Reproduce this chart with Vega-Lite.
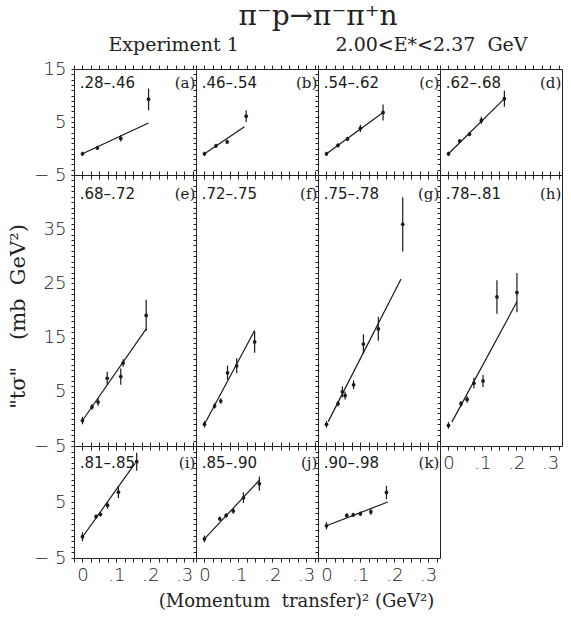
{
 "$schema": "https://vega.github.io/schema/vega-lite/v6.json",
 "background": "white",
 "padding": {"left": 6, "top": 2, "right": 2, "bottom": 2},
 "title": {"text": "π⁻p→π⁻π⁺n", "subtitle": "Experiment\u00a01\u00a0\u00a0\u00a0\u00a0\u00a0\u00a0\u00a0\u00a0\u00a0\u00a0\u00a0\u00a0\u00a0\u00a0\u00a0\u00a02.00<E*<2.37\u00a0\u00a0GeV", "font": "DejaVu Serif", "fontSize": 28, "fontWeight": "normal", "color": "#222", "subtitleFont": "DejaVu Serif", "subtitleFontSize": 19, "subtitleColor": "#222", "anchor": "start", "align": "center", "dx": 244, "frame": "group", "offset": 5, "subtitlePadding": 5},
 "datasets": {
  "pts": [
   {"p":"a","x":0,"y":-1.0,"lo":-1.4,"hi":-0.6},{"p":"a","x":0.044,"y":0.1,"lo":-0.3,"hi":0.5},{"p":"a","x":0.113,"y":1.9,"lo":1.3,"hi":2.5},{"p":"a","x":0.195,"y":9.3,"lo":7.2,"hi":11.3},
   {"p":"b","x":0,"y":-1.0,"lo":-1.4,"hi":-0.6},{"p":"b","x":0.034,"y":0.5,"lo":0.1,"hi":0.9},{"p":"b","x":0.067,"y":1.25,"lo":0.85,"hi":1.65},{"p":"b","x":0.123,"y":6.1,"lo":5.0,"hi":7.2},
   {"p":"c","x":0,"y":-1.0,"lo":-1.4,"hi":-0.6},{"p":"c","x":0.034,"y":0.6,"lo":0.2,"hi":1.0},{"p":"c","x":0.062,"y":1.8,"lo":1.4,"hi":2.2},{"p":"c","x":0.1,"y":3.8,"lo":3.1,"hi":4.5},{"p":"c","x":0.167,"y":6.8,"lo":5.3,"hi":8.3},
   {"p":"d","x":0,"y":-1.0,"lo":-1.4,"hi":-0.6},{"p":"d","x":0.033,"y":1.4,"lo":1.0,"hi":1.8},{"p":"d","x":0.062,"y":2.7,"lo":2.3,"hi":3.1},{"p":"d","x":0.097,"y":5.3,"lo":4.6,"hi":6.0},{"p":"d","x":0.165,"y":9.4,"lo":7.9,"hi":10.9},
   {"p":"e","x":0,"y":-0.3,"lo":-1.0,"hi":0.4},{"p":"e","x":0.028,"y":2.2,"lo":1.7,"hi":2.7},{"p":"e","x":0.046,"y":3.1,"lo":2.4,"hi":3.8},{"p":"e","x":0.073,"y":7.5,"lo":6.3,"hi":8.7},{"p":"e","x":0.113,"y":7.8,"lo":6.3,"hi":9.3},{"p":"e","x":0.12,"y":10.3,"lo":9.6,"hi":11.0},{"p":"e","x":0.188,"y":19.1,"lo":16.2,"hi":22.0},
   {"p":"f","x":0,"y":-1.0,"lo":-1.6,"hi":-0.4},{"p":"f","x":0.03,"y":2.4,"lo":1.9,"hi":2.9},{"p":"f","x":0.048,"y":3.3,"lo":2.8,"hi":3.8},{"p":"f","x":0.068,"y":8.5,"lo":7.2,"hi":9.8},{"p":"f","x":0.095,"y":9.8,"lo":8.4,"hi":11.2},{"p":"f","x":0.148,"y":14.2,"lo":12.2,"hi":16.2},
   {"p":"g","x":0,"y":-1.0,"lo":-1.6,"hi":-0.4},{"p":"g","x":0.034,"y":2.8,"lo":2.3,"hi":3.3},{"p":"g","x":0.047,"y":5.0,"lo":4.0,"hi":6.0},{"p":"g","x":0.055,"y":4.3,"lo":3.6,"hi":5.0},{"p":"g","x":0.08,"y":6.3,"lo":5.5,"hi":7.1},{"p":"g","x":0.109,"y":13.8,"lo":12.0,"hi":15.6},{"p":"g","x":0.153,"y":16.6,"lo":14.4,"hi":18.8},{"p":"g","x":0.225,"y":35.9,"lo":30.9,"hi":40.9},
   {"p":"h","x":0,"y":-1.2,"lo":-1.8,"hi":-0.6},{"p":"h","x":0.037,"y":2.8,"lo":2.3,"hi":3.3},{"p":"h","x":0.055,"y":3.6,"lo":3.0,"hi":4.2},{"p":"h","x":0.075,"y":6.6,"lo":5.6,"hi":7.6},{"p":"h","x":0.102,"y":7.0,"lo":5.9,"hi":8.1},{"p":"h","x":0.143,"y":22.5,"lo":19.4,"hi":25.6},{"p":"h","x":0.202,"y":23.3,"lo":19.7,"hi":26.9},
   {"p":"i","x":0,"y":-1.2,"lo":-2.0,"hi":-0.4},{"p":"i","x":0.04,"y":2.4,"lo":2.0,"hi":2.8},{"p":"i","x":0.053,"y":2.8,"lo":2.4,"hi":3.2},{"p":"i","x":0.074,"y":4.4,"lo":3.8,"hi":5.0},{"p":"i","x":0.106,"y":6.75,"lo":5.7,"hi":7.8},{"p":"i","x":0.16,"y":12.2,"lo":10.6,"hi":13.8},
   {"p":"j","x":0,"y":-1.6,"lo":-2.2,"hi":-1.0},{"p":"j","x":0.045,"y":2.0,"lo":1.6,"hi":2.4},{"p":"j","x":0.064,"y":2.6,"lo":2.2,"hi":3.0},{"p":"j","x":0.085,"y":3.4,"lo":2.9,"hi":3.9},{"p":"j","x":0.115,"y":5.75,"lo":4.8,"hi":6.7},{"p":"j","x":0.162,"y":8.25,"lo":7.0,"hi":9.5},
   {"p":"k","x":0,"y":0.75,"lo":0.1,"hi":1.4},{"p":"k","x":0.06,"y":2.6,"lo":2.2,"hi":3.0},{"p":"k","x":0.079,"y":2.7,"lo":2.3,"hi":3.1},{"p":"k","x":0.1,"y":2.9,"lo":2.5,"hi":3.3},{"p":"k","x":0.131,"y":3.25,"lo":2.7,"hi":3.8},{"p":"k","x":0.177,"y":6.7,"lo":5.5,"hi":7.9}
  ],
  "fits": [
   {"p":"a","x":0,"y":-1.0},{"p":"a","x":0.195,"y":4.8},
   {"p":"b","x":0,"y":-1.0},{"p":"b","x":0.118,"y":4.1},
   {"p":"c","x":0,"y":-1.0},{"p":"c","x":0.167,"y":6.8},
   {"p":"d","x":0,"y":-1.0},{"p":"d","x":0.165,"y":9.4},
   {"p":"e","x":0,"y":-0.3},{"p":"e","x":0.188,"y":16.6},
   {"p":"f","x":0,"y":-1.0},{"p":"f","x":0.148,"y":16.3},
   {"p":"g","x":0.005,"y":-0.5},{"p":"g","x":0.22,"y":25.8},
   {"p":"h","x":0.01,"y":-0.6},{"p":"h","x":0.202,"y":21.6},
   {"p":"i","x":0,"y":-1.25},{"p":"i","x":0.155,"y":11.9},
   {"p":"j","x":0,"y":-1.6},{"p":"j","x":0.162,"y":8.9},
   {"p":"k","x":0,"y":0.75},{"p":"k","x":0.181,"y":5.0}
  ],
  "labs": [
   {"p":"a","range":".28–.46","letter":"(a)"},{"p":"b","range":".46–.54","letter":"(b)"},{"p":"c","range":".54–.62","letter":"(c)"},{"p":"d","range":".62–.68","letter":"(d)"},
   {"p":"e","range":".68–.72","letter":"(e)"},{"p":"f","range":".72–.75","letter":"(f)"},{"p":"g","range":".75–.78","letter":"(g)"},{"p":"h","range":".78–.81","letter":"(h)"},
   {"p":"i","range":".81–.85","letter":"(i)"},{"p":"j","range":".85–.90","letter":"(j)"},{"p":"k","range":".90–.98","letter":"(k)"}
  ]
 },
 "columns": 4,
 "spacing": 0,
 "bounds": "flush",
 "align": "each",
 "concat": [
   {"width":122,"height":106,"resolve":{"axis":{"x":"independent","y":"independent"}},"layer":[
    {"data":{"name":"fits"},"transform":[{"filter":"datum.p=='a'"}],"mark":{"type":"line","color":"#1a1a1a","strokeWidth":1.2},"encoding":{"x":{"field":"x","type":"quantitative","scale":{"domain":[-0.025,0.335],"nice":false},"axis":{"orient":"bottom","values":[-0.025,0,0.025,0.05,0.075,0.1,0.125,0.15,0.175,0.2,0.225,0.25,0.275,0.3,0.325],"tickSize":4,"labels":false,"title":null}},"y":{"field":"y","type":"quantitative","scale":{"domain":[-5,15],"nice":false},"axis":{"values":[-5,-4,-3,-2,-1,0,1,2,3,4,5,6,7,8,9,10,11,12,13,14,15],"tickSize":3,"labelExpr":"datum.value==15?'15':datum.value==5?'5':datum.value==-5?'−\u00a05':''","labelPadding":5,"labelFontSize":18,"labelOverlap":false,"labelFlush":false,"title":null}}}},
    {"data":{"name":"pts"},"transform":[{"filter":"datum.p=='a'"}],"mark":{"type":"rule","color":"#1a1a1a","strokeWidth":1.2},"encoding":{"x":{"field":"x","type":"quantitative","scale":{"domain":[-0.025,0.335],"nice":false},"axis":{"orient":"top","values":[-0.025,0,0.025,0.05,0.075,0.1,0.125,0.15,0.175,0.2,0.225,0.25,0.275,0.3,0.325],"tickSize":4,"labels":false,"title":null}},"y":{"field":"lo","type":"quantitative","scale":{"domain":[-5,15],"nice":false},"axis":null},"y2":{"field":"hi"}}},
    {"data":{"name":"pts"},"transform":[{"filter":"datum.p=='a'"}],"mark":{"type":"point","filled":true,"size":14,"color":"#1a1a1a","opacity":1},"encoding":{"x":{"field":"x","type":"quantitative","scale":{"domain":[-0.025,0.335],"nice":false},"axis":null},"y":{"field":"y","type":"quantitative","scale":{"domain":[-5,15],"nice":false},"axis":null}}},
    {"data":{"name":"labs"},"transform":[{"filter":"datum.p=='a'"}],"mark":{"type":"text","align":"left","baseline":"middle","font":"DejaVu Sans","fontSize":15,"color":"#1a1a1a"},"encoding":{"x":{"datum":-0.008,"scale":{"domain":[-0.025,0.335],"nice":false},"axis":null},"y":{"datum":12.3,"scale":{"domain":[-5,15],"nice":false},"axis":null},"text":{"field":"range"}}},
    {"data":{"name":"labs"},"transform":[{"filter":"datum.p=='a'"}],"mark":{"type":"text","align":"right","baseline":"middle","font":"DejaVu Serif","fontSize":15,"color":"#1a1a1a"},"encoding":{"x":{"datum":0.333,"scale":{"domain":[-0.025,0.335],"nice":false},"axis":null},"y":{"datum":12.3,"scale":{"domain":[-5,15],"nice":false},"axis":null},"text":{"field":"letter"}}}
   ]},
   {"width":122,"height":106,"resolve":{"axis":{"x":"independent","y":"independent"}},"layer":[
    {"data":{"name":"fits"},"transform":[{"filter":"datum.p=='b'"}],"mark":{"type":"line","color":"#1a1a1a","strokeWidth":1.2},"encoding":{"x":{"field":"x","type":"quantitative","scale":{"domain":[-0.025,0.335],"nice":false},"axis":{"orient":"bottom","values":[-0.025,0,0.025,0.05,0.075,0.1,0.125,0.15,0.175,0.2,0.225,0.25,0.275,0.3,0.325],"tickSize":4,"labels":false,"title":null}},"y":{"field":"y","type":"quantitative","scale":{"domain":[-5,15],"nice":false},"axis":{"values":[-5,-4,-3,-2,-1,0,1,2,3,4,5,6,7,8,9,10,11,12,13,14,15],"tickSize":3,"labels":false,"title":null}}}},
    {"data":{"name":"pts"},"transform":[{"filter":"datum.p=='b'"}],"mark":{"type":"rule","color":"#1a1a1a","strokeWidth":1.2},"encoding":{"x":{"field":"x","type":"quantitative","scale":{"domain":[-0.025,0.335],"nice":false},"axis":{"orient":"top","values":[-0.025,0,0.025,0.05,0.075,0.1,0.125,0.15,0.175,0.2,0.225,0.25,0.275,0.3,0.325],"tickSize":4,"labels":false,"title":null}},"y":{"field":"lo","type":"quantitative","scale":{"domain":[-5,15],"nice":false},"axis":null},"y2":{"field":"hi"}}},
    {"data":{"name":"pts"},"transform":[{"filter":"datum.p=='b'"}],"mark":{"type":"point","filled":true,"size":14,"color":"#1a1a1a","opacity":1},"encoding":{"x":{"field":"x","type":"quantitative","scale":{"domain":[-0.025,0.335],"nice":false},"axis":null},"y":{"field":"y","type":"quantitative","scale":{"domain":[-5,15],"nice":false},"axis":null}}},
    {"data":{"name":"labs"},"transform":[{"filter":"datum.p=='b'"}],"mark":{"type":"text","align":"left","baseline":"middle","font":"DejaVu Sans","fontSize":15,"color":"#1a1a1a"},"encoding":{"x":{"datum":-0.008,"scale":{"domain":[-0.025,0.335],"nice":false},"axis":null},"y":{"datum":12.3,"scale":{"domain":[-5,15],"nice":false},"axis":null},"text":{"field":"range"}}},
    {"data":{"name":"labs"},"transform":[{"filter":"datum.p=='b'"}],"mark":{"type":"text","align":"right","baseline":"middle","font":"DejaVu Serif","fontSize":15,"color":"#1a1a1a"},"encoding":{"x":{"datum":0.333,"scale":{"domain":[-0.025,0.335],"nice":false},"axis":null},"y":{"datum":12.3,"scale":{"domain":[-5,15],"nice":false},"axis":null},"text":{"field":"letter"}}}
   ]},
   {"width":122,"height":106,"resolve":{"axis":{"x":"independent","y":"independent"}},"layer":[
    {"data":{"name":"fits"},"transform":[{"filter":"datum.p=='c'"}],"mark":{"type":"line","color":"#1a1a1a","strokeWidth":1.2},"encoding":{"x":{"field":"x","type":"quantitative","scale":{"domain":[-0.025,0.335],"nice":false},"axis":{"orient":"bottom","values":[-0.025,0,0.025,0.05,0.075,0.1,0.125,0.15,0.175,0.2,0.225,0.25,0.275,0.3,0.325],"tickSize":4,"labels":false,"title":null}},"y":{"field":"y","type":"quantitative","scale":{"domain":[-5,15],"nice":false},"axis":{"values":[-5,-4,-3,-2,-1,0,1,2,3,4,5,6,7,8,9,10,11,12,13,14,15],"tickSize":3,"labels":false,"title":null}}}},
    {"data":{"name":"pts"},"transform":[{"filter":"datum.p=='c'"}],"mark":{"type":"rule","color":"#1a1a1a","strokeWidth":1.2},"encoding":{"x":{"field":"x","type":"quantitative","scale":{"domain":[-0.025,0.335],"nice":false},"axis":{"orient":"top","values":[-0.025,0,0.025,0.05,0.075,0.1,0.125,0.15,0.175,0.2,0.225,0.25,0.275,0.3,0.325],"tickSize":4,"labels":false,"title":null}},"y":{"field":"lo","type":"quantitative","scale":{"domain":[-5,15],"nice":false},"axis":null},"y2":{"field":"hi"}}},
    {"data":{"name":"pts"},"transform":[{"filter":"datum.p=='c'"}],"mark":{"type":"point","filled":true,"size":14,"color":"#1a1a1a","opacity":1},"encoding":{"x":{"field":"x","type":"quantitative","scale":{"domain":[-0.025,0.335],"nice":false},"axis":null},"y":{"field":"y","type":"quantitative","scale":{"domain":[-5,15],"nice":false},"axis":null}}},
    {"data":{"name":"labs"},"transform":[{"filter":"datum.p=='c'"}],"mark":{"type":"text","align":"left","baseline":"middle","font":"DejaVu Sans","fontSize":15,"color":"#1a1a1a"},"encoding":{"x":{"datum":-0.008,"scale":{"domain":[-0.025,0.335],"nice":false},"axis":null},"y":{"datum":12.3,"scale":{"domain":[-5,15],"nice":false},"axis":null},"text":{"field":"range"}}},
    {"data":{"name":"labs"},"transform":[{"filter":"datum.p=='c'"}],"mark":{"type":"text","align":"right","baseline":"middle","font":"DejaVu Serif","fontSize":15,"color":"#1a1a1a"},"encoding":{"x":{"datum":0.333,"scale":{"domain":[-0.025,0.335],"nice":false},"axis":null},"y":{"datum":12.3,"scale":{"domain":[-5,15],"nice":false},"axis":null},"text":{"field":"letter"}}}
   ]},
   {"width":122,"height":106,"resolve":{"axis":{"x":"independent","y":"independent"}},"layer":[
    {"data":{"name":"fits"},"transform":[{"filter":"datum.p=='d'"}],"mark":{"type":"line","color":"#1a1a1a","strokeWidth":1.2},"encoding":{"x":{"field":"x","type":"quantitative","scale":{"domain":[-0.025,0.335],"nice":false},"axis":{"orient":"bottom","values":[-0.025,0,0.025,0.05,0.075,0.1,0.125,0.15,0.175,0.2,0.225,0.25,0.275,0.3,0.325],"tickSize":4,"labels":false,"title":null}},"y":{"field":"y","type":"quantitative","scale":{"domain":[-5,15],"nice":false},"axis":{"values":[-5,-4,-3,-2,-1,0,1,2,3,4,5,6,7,8,9,10,11,12,13,14,15],"tickSize":3,"labels":false,"title":null}}}},
    {"data":{"name":"pts"},"transform":[{"filter":"datum.p=='d'"}],"mark":{"type":"rule","color":"#1a1a1a","strokeWidth":1.2},"encoding":{"x":{"field":"x","type":"quantitative","scale":{"domain":[-0.025,0.335],"nice":false},"axis":{"orient":"top","values":[-0.025,0,0.025,0.05,0.075,0.1,0.125,0.15,0.175,0.2,0.225,0.25,0.275,0.3,0.325],"tickSize":4,"labels":false,"title":null}},"y":{"field":"lo","type":"quantitative","scale":{"domain":[-5,15],"nice":false},"axis":null},"y2":{"field":"hi"}}},
    {"data":{"name":"pts"},"transform":[{"filter":"datum.p=='d'"}],"mark":{"type":"point","filled":true,"size":14,"color":"#1a1a1a","opacity":1},"encoding":{"x":{"field":"x","type":"quantitative","scale":{"domain":[-0.025,0.335],"nice":false},"axis":null},"y":{"field":"y","type":"quantitative","scale":{"domain":[-5,15],"nice":false},"axis":null}}},
    {"data":{"name":"labs"},"transform":[{"filter":"datum.p=='d'"}],"mark":{"type":"text","align":"left","baseline":"middle","font":"DejaVu Sans","fontSize":15,"color":"#1a1a1a"},"encoding":{"x":{"datum":-0.008,"scale":{"domain":[-0.025,0.335],"nice":false},"axis":null},"y":{"datum":12.3,"scale":{"domain":[-5,15],"nice":false},"axis":null},"text":{"field":"range"}}},
    {"data":{"name":"labs"},"transform":[{"filter":"datum.p=='d'"}],"mark":{"type":"text","align":"right","baseline":"middle","font":"DejaVu Serif","fontSize":15,"color":"#1a1a1a"},"encoding":{"x":{"datum":0.333,"scale":{"domain":[-0.025,0.335],"nice":false},"axis":null},"y":{"datum":12.3,"scale":{"domain":[-5,15],"nice":false},"axis":null},"text":{"field":"letter"}}}
   ]},
   {"width":122,"height":271,"resolve":{"axis":{"x":"independent","y":"independent"}},"layer":[
    {"data":{"name":"fits"},"transform":[{"filter":"datum.p=='e'"}],"mark":{"type":"line","color":"#1a1a1a","strokeWidth":1.2},"encoding":{"x":{"field":"x","type":"quantitative","scale":{"domain":[-0.025,0.335],"nice":false},"axis":{"orient":"bottom","values":[-0.025,0,0.025,0.05,0.075,0.1,0.125,0.15,0.175,0.2,0.225,0.25,0.275,0.3,0.325],"tickSize":4,"labels":false,"title":null}},"y":{"field":"y","type":"quantitative","scale":{"domain":[-5,45],"nice":false},"axis":{"values":[-5,-4,-3,-2,-1,0,1,2,3,4,5,6,7,8,9,10,11,12,13,14,15,16,17,18,19,20,21,22,23,24,25,26,27,28,29,30,31,32,33,34,35,36,37,38,39,40,41,42,43,44,45],"tickSize":3,"labelExpr":"datum.value==35?'35':datum.value==25?'25':datum.value==15?'15':datum.value==5?'5':datum.value==-5?'−\u00a05':''","labelPadding":5,"labelFontSize":18,"labelOverlap":false,"labelFlush":false,"title":"\"tσ\"\u00a0\u00a0\u00a0\u00a0(mb\u00a0\u00a0GeV²)","titleFont":"DejaVu Serif","titleFontSize":21,"titleX":-46,"titleY":141}}}},
    {"data":{"name":"pts"},"transform":[{"filter":"datum.p=='e'"}],"mark":{"type":"rule","color":"#1a1a1a","strokeWidth":1.2},"encoding":{"x":{"field":"x","type":"quantitative","scale":{"domain":[-0.025,0.335],"nice":false},"axis":{"orient":"top","values":[-0.025,0,0.025,0.05,0.075,0.1,0.125,0.15,0.175,0.2,0.225,0.25,0.275,0.3,0.325],"tickSize":4,"labels":false,"title":null}},"y":{"field":"lo","type":"quantitative","scale":{"domain":[-5,45],"nice":false},"axis":null},"y2":{"field":"hi"}}},
    {"data":{"name":"pts"},"transform":[{"filter":"datum.p=='e'"}],"mark":{"type":"point","filled":true,"size":14,"color":"#1a1a1a","opacity":1},"encoding":{"x":{"field":"x","type":"quantitative","scale":{"domain":[-0.025,0.335],"nice":false},"axis":null},"y":{"field":"y","type":"quantitative","scale":{"domain":[-5,45],"nice":false},"axis":null}}},
    {"data":{"name":"labs"},"transform":[{"filter":"datum.p=='e'"}],"mark":{"type":"text","align":"left","baseline":"middle","font":"DejaVu Sans","fontSize":15,"color":"#1a1a1a"},"encoding":{"x":{"datum":-0.008,"scale":{"domain":[-0.025,0.335],"nice":false},"axis":null},"y":{"datum":41.5,"scale":{"domain":[-5,45],"nice":false},"axis":null},"text":{"field":"range"}}},
    {"data":{"name":"labs"},"transform":[{"filter":"datum.p=='e'"}],"mark":{"type":"text","align":"right","baseline":"middle","font":"DejaVu Serif","fontSize":15,"color":"#1a1a1a"},"encoding":{"x":{"datum":0.333,"scale":{"domain":[-0.025,0.335],"nice":false},"axis":null},"y":{"datum":41.5,"scale":{"domain":[-5,45],"nice":false},"axis":null},"text":{"field":"letter"}}}
   ]},
   {"width":122,"height":271,"resolve":{"axis":{"x":"independent","y":"independent"}},"layer":[
    {"data":{"name":"fits"},"transform":[{"filter":"datum.p=='f'"}],"mark":{"type":"line","color":"#1a1a1a","strokeWidth":1.2},"encoding":{"x":{"field":"x","type":"quantitative","scale":{"domain":[-0.025,0.335],"nice":false},"axis":{"orient":"bottom","values":[-0.025,0,0.025,0.05,0.075,0.1,0.125,0.15,0.175,0.2,0.225,0.25,0.275,0.3,0.325],"tickSize":4,"labels":false,"title":null}},"y":{"field":"y","type":"quantitative","scale":{"domain":[-5,45],"nice":false},"axis":{"values":[-5,-4,-3,-2,-1,0,1,2,3,4,5,6,7,8,9,10,11,12,13,14,15,16,17,18,19,20,21,22,23,24,25,26,27,28,29,30,31,32,33,34,35,36,37,38,39,40,41,42,43,44,45],"tickSize":3,"labels":false,"title":null}}}},
    {"data":{"name":"pts"},"transform":[{"filter":"datum.p=='f'"}],"mark":{"type":"rule","color":"#1a1a1a","strokeWidth":1.2},"encoding":{"x":{"field":"x","type":"quantitative","scale":{"domain":[-0.025,0.335],"nice":false},"axis":{"orient":"top","values":[-0.025,0,0.025,0.05,0.075,0.1,0.125,0.15,0.175,0.2,0.225,0.25,0.275,0.3,0.325],"tickSize":4,"labels":false,"title":null}},"y":{"field":"lo","type":"quantitative","scale":{"domain":[-5,45],"nice":false},"axis":null},"y2":{"field":"hi"}}},
    {"data":{"name":"pts"},"transform":[{"filter":"datum.p=='f'"}],"mark":{"type":"point","filled":true,"size":14,"color":"#1a1a1a","opacity":1},"encoding":{"x":{"field":"x","type":"quantitative","scale":{"domain":[-0.025,0.335],"nice":false},"axis":null},"y":{"field":"y","type":"quantitative","scale":{"domain":[-5,45],"nice":false},"axis":null}}},
    {"data":{"name":"labs"},"transform":[{"filter":"datum.p=='f'"}],"mark":{"type":"text","align":"left","baseline":"middle","font":"DejaVu Sans","fontSize":15,"color":"#1a1a1a"},"encoding":{"x":{"datum":-0.008,"scale":{"domain":[-0.025,0.335],"nice":false},"axis":null},"y":{"datum":41.5,"scale":{"domain":[-5,45],"nice":false},"axis":null},"text":{"field":"range"}}},
    {"data":{"name":"labs"},"transform":[{"filter":"datum.p=='f'"}],"mark":{"type":"text","align":"right","baseline":"middle","font":"DejaVu Serif","fontSize":15,"color":"#1a1a1a"},"encoding":{"x":{"datum":0.333,"scale":{"domain":[-0.025,0.335],"nice":false},"axis":null},"y":{"datum":41.5,"scale":{"domain":[-5,45],"nice":false},"axis":null},"text":{"field":"letter"}}}
   ]},
   {"width":122,"height":271,"resolve":{"axis":{"x":"independent","y":"independent"}},"layer":[
    {"data":{"name":"fits"},"transform":[{"filter":"datum.p=='g'"}],"mark":{"type":"line","color":"#1a1a1a","strokeWidth":1.2},"encoding":{"x":{"field":"x","type":"quantitative","scale":{"domain":[-0.025,0.335],"nice":false},"axis":{"orient":"bottom","values":[-0.025,0,0.025,0.05,0.075,0.1,0.125,0.15,0.175,0.2,0.225,0.25,0.275,0.3,0.325],"tickSize":4,"labels":false,"title":null}},"y":{"field":"y","type":"quantitative","scale":{"domain":[-5,45],"nice":false},"axis":{"values":[-5,-4,-3,-2,-1,0,1,2,3,4,5,6,7,8,9,10,11,12,13,14,15,16,17,18,19,20,21,22,23,24,25,26,27,28,29,30,31,32,33,34,35,36,37,38,39,40,41,42,43,44,45],"tickSize":3,"labels":false,"title":null}}}},
    {"data":{"name":"pts"},"transform":[{"filter":"datum.p=='g'"}],"mark":{"type":"rule","color":"#1a1a1a","strokeWidth":1.2},"encoding":{"x":{"field":"x","type":"quantitative","scale":{"domain":[-0.025,0.335],"nice":false},"axis":{"orient":"top","values":[-0.025,0,0.025,0.05,0.075,0.1,0.125,0.15,0.175,0.2,0.225,0.25,0.275,0.3,0.325],"tickSize":4,"labels":false,"title":null}},"y":{"field":"lo","type":"quantitative","scale":{"domain":[-5,45],"nice":false},"axis":null},"y2":{"field":"hi"}}},
    {"data":{"name":"pts"},"transform":[{"filter":"datum.p=='g'"}],"mark":{"type":"point","filled":true,"size":14,"color":"#1a1a1a","opacity":1},"encoding":{"x":{"field":"x","type":"quantitative","scale":{"domain":[-0.025,0.335],"nice":false},"axis":null},"y":{"field":"y","type":"quantitative","scale":{"domain":[-5,45],"nice":false},"axis":null}}},
    {"data":{"name":"labs"},"transform":[{"filter":"datum.p=='g'"}],"mark":{"type":"text","align":"left","baseline":"middle","font":"DejaVu Sans","fontSize":15,"color":"#1a1a1a"},"encoding":{"x":{"datum":-0.008,"scale":{"domain":[-0.025,0.335],"nice":false},"axis":null},"y":{"datum":41.5,"scale":{"domain":[-5,45],"nice":false},"axis":null},"text":{"field":"range"}}},
    {"data":{"name":"labs"},"transform":[{"filter":"datum.p=='g'"}],"mark":{"type":"text","align":"right","baseline":"middle","font":"DejaVu Serif","fontSize":15,"color":"#1a1a1a"},"encoding":{"x":{"datum":0.333,"scale":{"domain":[-0.025,0.335],"nice":false},"axis":null},"y":{"datum":41.5,"scale":{"domain":[-5,45],"nice":false},"axis":null},"text":{"field":"letter"}}}
   ]},
   {"width":122,"height":271,"resolve":{"axis":{"x":"independent","y":"independent"}},"layer":[
    {"data":{"name":"fits"},"transform":[{"filter":"datum.p=='h'"}],"mark":{"type":"line","color":"#1a1a1a","strokeWidth":1.2},"encoding":{"x":{"field":"x","type":"quantitative","scale":{"domain":[-0.025,0.335],"nice":false},"axis":{"orient":"bottom","values":[-0.025,0,0.025,0.05,0.075,0.1,0.125,0.15,0.175,0.2,0.225,0.25,0.275,0.3,0.325],"tickSize":4,"labelExpr":"datum.value==0?'0':abs(datum.value-0.1)<0.001?'.1':abs(datum.value-0.2)<0.001?'.2':abs(datum.value-0.3)<0.001?'.3':''","labelPadding":4,"labelFontSize":18,"labelOverlap":false,"labelFlush":false,"title":null}},"y":{"field":"y","type":"quantitative","scale":{"domain":[-5,45],"nice":false},"axis":{"values":[-5,-4,-3,-2,-1,0,1,2,3,4,5,6,7,8,9,10,11,12,13,14,15,16,17,18,19,20,21,22,23,24,25,26,27,28,29,30,31,32,33,34,35,36,37,38,39,40,41,42,43,44,45],"tickSize":3,"labels":false,"title":null}}}},
    {"data":{"name":"pts"},"transform":[{"filter":"datum.p=='h'"}],"mark":{"type":"rule","color":"#1a1a1a","strokeWidth":1.2},"encoding":{"x":{"field":"x","type":"quantitative","scale":{"domain":[-0.025,0.335],"nice":false},"axis":{"orient":"top","values":[-0.025,0,0.025,0.05,0.075,0.1,0.125,0.15,0.175,0.2,0.225,0.25,0.275,0.3,0.325],"tickSize":4,"labels":false,"title":null}},"y":{"field":"lo","type":"quantitative","scale":{"domain":[-5,45],"nice":false},"axis":null},"y2":{"field":"hi"}}},
    {"data":{"name":"pts"},"transform":[{"filter":"datum.p=='h'"}],"mark":{"type":"point","filled":true,"size":14,"color":"#1a1a1a","opacity":1},"encoding":{"x":{"field":"x","type":"quantitative","scale":{"domain":[-0.025,0.335],"nice":false},"axis":null},"y":{"field":"y","type":"quantitative","scale":{"domain":[-5,45],"nice":false},"axis":null}}},
    {"data":{"name":"labs"},"transform":[{"filter":"datum.p=='h'"}],"mark":{"type":"text","align":"left","baseline":"middle","font":"DejaVu Sans","fontSize":15,"color":"#1a1a1a"},"encoding":{"x":{"datum":-0.008,"scale":{"domain":[-0.025,0.335],"nice":false},"axis":null},"y":{"datum":41.5,"scale":{"domain":[-5,45],"nice":false},"axis":null},"text":{"field":"range"}}},
    {"data":{"name":"labs"},"transform":[{"filter":"datum.p=='h'"}],"mark":{"type":"text","align":"right","baseline":"middle","font":"DejaVu Serif","fontSize":15,"color":"#1a1a1a"},"encoding":{"x":{"datum":0.333,"scale":{"domain":[-0.025,0.335],"nice":false},"axis":null},"y":{"datum":41.5,"scale":{"domain":[-5,45],"nice":false},"axis":null},"text":{"field":"letter"}}}
   ]},
   {"width":122,"height":112,"resolve":{"axis":{"x":"independent","y":"independent"}},"layer":[
    {"data":{"name":"fits"},"transform":[{"filter":"datum.p=='i'"}],"mark":{"type":"line","color":"#1a1a1a","strokeWidth":1.2},"encoding":{"x":{"field":"x","type":"quantitative","scale":{"domain":[-0.025,0.335],"nice":false},"axis":{"orient":"bottom","values":[-0.025,0,0.025,0.05,0.075,0.1,0.125,0.15,0.175,0.2,0.225,0.25,0.275,0.3,0.325],"tickSize":4,"labelExpr":"datum.value==0?'0':abs(datum.value-0.1)<0.001?'.1':abs(datum.value-0.2)<0.001?'.2':abs(datum.value-0.3)<0.001?'.3':''","labelPadding":4,"labelFontSize":18,"labelOverlap":false,"labelFlush":false,"title":null}},"y":{"field":"y","type":"quantitative","scale":{"domain":[-5,15],"nice":false},"axis":{"values":[-5,-4,-3,-2,-1,0,1,2,3,4,5,6,7,8,9,10,11,12,13,14,15],"tickSize":3,"labelExpr":"datum.value==5?'5':datum.value==-5?'−\u00a05':''","labelPadding":5,"labelFontSize":18,"labelOverlap":false,"labelFlush":false,"title":null}}}},
    {"data":{"name":"pts"},"transform":[{"filter":"datum.p=='i'"}],"mark":{"type":"rule","color":"#1a1a1a","strokeWidth":1.2},"encoding":{"x":{"field":"x","type":"quantitative","scale":{"domain":[-0.025,0.335],"nice":false},"axis":{"orient":"top","values":[-0.025,0,0.025,0.05,0.075,0.1,0.125,0.15,0.175,0.2,0.225,0.25,0.275,0.3,0.325],"tickSize":4,"labels":false,"title":null}},"y":{"field":"lo","type":"quantitative","scale":{"domain":[-5,15],"nice":false},"axis":null},"y2":{"field":"hi"}}},
    {"data":{"name":"pts"},"transform":[{"filter":"datum.p=='i'"}],"mark":{"type":"point","filled":true,"size":14,"color":"#1a1a1a","opacity":1},"encoding":{"x":{"field":"x","type":"quantitative","scale":{"domain":[-0.025,0.335],"nice":false},"axis":null},"y":{"field":"y","type":"quantitative","scale":{"domain":[-5,15],"nice":false},"axis":null}}},
    {"data":{"name":"labs"},"transform":[{"filter":"datum.p=='i'"}],"mark":{"type":"text","align":"left","baseline":"middle","font":"DejaVu Sans","fontSize":15,"color":"#1a1a1a"},"encoding":{"x":{"datum":-0.008,"scale":{"domain":[-0.025,0.335],"nice":false},"axis":null},"y":{"datum":12,"scale":{"domain":[-5,15],"nice":false},"axis":null},"text":{"field":"range"}}},
    {"data":{"name":"labs"},"transform":[{"filter":"datum.p=='i'"}],"mark":{"type":"text","align":"right","baseline":"middle","font":"DejaVu Serif","fontSize":15,"color":"#1a1a1a"},"encoding":{"x":{"datum":0.333,"scale":{"domain":[-0.025,0.335],"nice":false},"axis":null},"y":{"datum":12,"scale":{"domain":[-5,15],"nice":false},"axis":null},"text":{"field":"letter"}}}
   ]},
   {"width":122,"height":112,"resolve":{"axis":{"x":"independent","y":"independent"}},"layer":[
    {"data":{"name":"fits"},"transform":[{"filter":"datum.p=='j'"}],"mark":{"type":"line","color":"#1a1a1a","strokeWidth":1.2},"encoding":{"x":{"field":"x","type":"quantitative","scale":{"domain":[-0.025,0.335],"nice":false},"axis":{"orient":"bottom","values":[-0.025,0,0.025,0.05,0.075,0.1,0.125,0.15,0.175,0.2,0.225,0.25,0.275,0.3,0.325],"tickSize":4,"labelExpr":"datum.value==0?'0':abs(datum.value-0.1)<0.001?'.1':abs(datum.value-0.2)<0.001?'.2':abs(datum.value-0.3)<0.001?'.3':''","labelPadding":4,"labelFontSize":18,"labelOverlap":false,"labelFlush":false,"title":"(Momentum\u00a0\u00a0transfer)²\u00a0(GeV²)","titleFont":"DejaVu Serif","titleFontSize":18,"titleX":100,"titlePadding":8}},"y":{"field":"y","type":"quantitative","scale":{"domain":[-5,15],"nice":false},"axis":{"values":[-5,-4,-3,-2,-1,0,1,2,3,4,5,6,7,8,9,10,11,12,13,14,15],"tickSize":3,"labels":false,"title":null}}}},
    {"data":{"name":"pts"},"transform":[{"filter":"datum.p=='j'"}],"mark":{"type":"rule","color":"#1a1a1a","strokeWidth":1.2},"encoding":{"x":{"field":"x","type":"quantitative","scale":{"domain":[-0.025,0.335],"nice":false},"axis":{"orient":"top","values":[-0.025,0,0.025,0.05,0.075,0.1,0.125,0.15,0.175,0.2,0.225,0.25,0.275,0.3,0.325],"tickSize":4,"labels":false,"title":null}},"y":{"field":"lo","type":"quantitative","scale":{"domain":[-5,15],"nice":false},"axis":null},"y2":{"field":"hi"}}},
    {"data":{"name":"pts"},"transform":[{"filter":"datum.p=='j'"}],"mark":{"type":"point","filled":true,"size":14,"color":"#1a1a1a","opacity":1},"encoding":{"x":{"field":"x","type":"quantitative","scale":{"domain":[-0.025,0.335],"nice":false},"axis":null},"y":{"field":"y","type":"quantitative","scale":{"domain":[-5,15],"nice":false},"axis":null}}},
    {"data":{"name":"labs"},"transform":[{"filter":"datum.p=='j'"}],"mark":{"type":"text","align":"left","baseline":"middle","font":"DejaVu Sans","fontSize":15,"color":"#1a1a1a"},"encoding":{"x":{"datum":-0.008,"scale":{"domain":[-0.025,0.335],"nice":false},"axis":null},"y":{"datum":12,"scale":{"domain":[-5,15],"nice":false},"axis":null},"text":{"field":"range"}}},
    {"data":{"name":"labs"},"transform":[{"filter":"datum.p=='j'"}],"mark":{"type":"text","align":"right","baseline":"middle","font":"DejaVu Serif","fontSize":15,"color":"#1a1a1a"},"encoding":{"x":{"datum":0.333,"scale":{"domain":[-0.025,0.335],"nice":false},"axis":null},"y":{"datum":12,"scale":{"domain":[-5,15],"nice":false},"axis":null},"text":{"field":"letter"}}}
   ]},
   {"width":122,"height":112,"resolve":{"axis":{"x":"independent","y":"independent"}},"layer":[
    {"data":{"name":"fits"},"transform":[{"filter":"datum.p=='k'"}],"mark":{"type":"line","color":"#1a1a1a","strokeWidth":1.2},"encoding":{"x":{"field":"x","type":"quantitative","scale":{"domain":[-0.025,0.335],"nice":false},"axis":{"orient":"bottom","values":[-0.025,0,0.025,0.05,0.075,0.1,0.125,0.15,0.175,0.2,0.225,0.25,0.275,0.3,0.325],"tickSize":4,"labelExpr":"datum.value==0?'0':abs(datum.value-0.1)<0.001?'.1':abs(datum.value-0.2)<0.001?'.2':abs(datum.value-0.3)<0.001?'.3':''","labelPadding":4,"labelFontSize":18,"labelOverlap":false,"labelFlush":false,"title":null}},"y":{"field":"y","type":"quantitative","scale":{"domain":[-5,15],"nice":false},"axis":{"values":[-5,-4,-3,-2,-1,0,1,2,3,4,5,6,7,8,9,10,11,12,13,14,15],"tickSize":3,"labels":false,"title":null}}}},
    {"data":{"name":"pts"},"transform":[{"filter":"datum.p=='k'"}],"mark":{"type":"rule","color":"#1a1a1a","strokeWidth":1.2},"encoding":{"x":{"field":"x","type":"quantitative","scale":{"domain":[-0.025,0.335],"nice":false},"axis":{"orient":"top","values":[-0.025,0,0.025,0.05,0.075,0.1,0.125,0.15,0.175,0.2,0.225,0.25,0.275,0.3,0.325],"tickSize":4,"labels":false,"title":null}},"y":{"field":"lo","type":"quantitative","scale":{"domain":[-5,15],"nice":false},"axis":null},"y2":{"field":"hi"}}},
    {"data":{"name":"pts"},"transform":[{"filter":"datum.p=='k'"}],"mark":{"type":"point","filled":true,"size":14,"color":"#1a1a1a","opacity":1},"encoding":{"x":{"field":"x","type":"quantitative","scale":{"domain":[-0.025,0.335],"nice":false},"axis":null},"y":{"field":"y","type":"quantitative","scale":{"domain":[-5,15],"nice":false},"axis":null}}},
    {"data":{"name":"labs"},"transform":[{"filter":"datum.p=='k'"}],"mark":{"type":"text","align":"left","baseline":"middle","font":"DejaVu Sans","fontSize":15,"color":"#1a1a1a"},"encoding":{"x":{"datum":-0.008,"scale":{"domain":[-0.025,0.335],"nice":false},"axis":null},"y":{"datum":12,"scale":{"domain":[-5,15],"nice":false},"axis":null},"text":{"field":"range"}}},
    {"data":{"name":"labs"},"transform":[{"filter":"datum.p=='k'"}],"mark":{"type":"text","align":"right","baseline":"middle","font":"DejaVu Serif","fontSize":15,"color":"#1a1a1a"},"encoding":{"x":{"datum":0.333,"scale":{"domain":[-0.025,0.335],"nice":false},"axis":null},"y":{"datum":12,"scale":{"domain":[-5,15],"nice":false},"axis":null},"text":{"field":"letter"}}}
   ]}
 ],
 "config": {
  "view": {"stroke": "#222", "strokeWidth": 1},
  "axis": {"domain": false, "grid": false, "tickColor": "#222", "tickWidth": 1, "labelColor": "#222", "labelFont": "DejaVu Sans", "labelFontWeight": 300, "labelOverlap": false, "titleFont": "DejaVu Serif", "titleFontWeight": "normal", "titleColor": "#222"}
 }
}
